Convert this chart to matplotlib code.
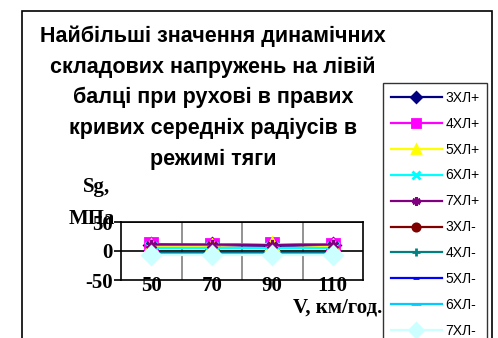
import matplotlib
matplotlib.use('Agg')
import matplotlib.pyplot as plt
from matplotlib.patches import Rectangle
from matplotlib.lines import Line2D

speeds = ['50', '70', '90', '110']
labels = ['3ХЛ+', '4ХЛ+', '5ХЛ+', '6ХЛ+', '7ХЛ+',
          '3ХЛ-', '4ХЛ-', '5ХЛ-', '6ХЛ-', '7ХЛ-']
s3p = [10, 10, 9, 10]
s4p = [12, 11, 12, 11]
s5p = [9, 9, 12, 8]
s6p = [6, 6, 6, 6]
s7p = [11, 11, 10, 11]
s3m = [-4, -4, -4, -4]
s4m = [-3, -3, -3, -3]
s5m = [-5, -5, -5, -5]
s6m = [-6, -6, -6, -6]
s7m = [-7, -7, -7, -7]
yticks = [-50, 0, 50]
title_lines = ['Найбільші значення динамічних',
               'складових напружень на лівій',
               'балці при рухові в правих',
               'кривих середніх радіусів в',
               'режимі тяги']

series = [s3p, s4p, s5p, s6p, s7p, s3m, s4m, s5m, s6m, s7m]
colors = ['#000080', '#FF00FF', '#FFFF00', '#00FFFF', '#800080',
          '#800000', '#008080', '#0000FF', '#00CCFF', '#CCFFFF']
markers = ['D', 's', '^', 'x', (6, 2, 0), 'o', '+', '_', '_', 'D']
msizes = [7, 8, 8, 8, 8, 7, 8, 6, 9, 9]

plt.rcParams['axes.unicode_minus'] = False

W, H = 498, 338
fig = plt.figure(figsize=(W / 100, H / 100), dpi=100)

# outer frame of the chart
fig.patches.append(Rectangle((22 / W, -0.1), (492 - 22) / W, 1.1 - 11 / H,
                             transform=fig.transFigure, fill=False,
                             edgecolor='black', linewidth=1.2))

# title, line by line
for i, line in enumerate(title_lines):
    fig.text(213 / W, 1 - (36 + i * 30.8) / H, line, ha='center', va='center',
             family='Liberation Sans', weight='bold', fontsize=15.5)

ax = fig.add_axes([121 / W, 1 - 280 / H, (363 - 121) / W, (280 - 222) / H])
x = range(len(speeds))
for vals, c, m, ms, lab in zip(series, colors, markers, msizes, labels):
    ax.plot(x, vals, color=c, marker=m, markersize=ms, markeredgewidth=2,
            linewidth=1.6, label=lab, clip_on=False)

ax.set_xlim(-0.5, 3.5)
ax.set_ylim(-50, 50)
ax.set_yticks(yticks)
ax.set_xticks(list(x))
ax.set_xticklabels(speeds)
for xv in [0.5, 1.5, 2.5]:
    ax.axvline(xv, color='#808080', linewidth=1.2, zorder=0)
ax.axhline(0, color='black', linewidth=1.2, zorder=0)
ax.axhline(50, color='black', linewidth=1.2, zorder=0)
for sp in ax.spines.values():
    sp.set_linewidth(1.2)
ax.tick_params(axis='x', length=0, pad=-3)
ax.tick_params(axis='y', length=5, width=1.2, pad=1)
for t in ax.get_xticklabels() + ax.get_yticklabels():
    t.set_family('Liberation Serif')
    t.set_weight('bold')
    t.set_fontsize(15)

fig.text(96 / W, 1 - 187 / H, 'Sg,', ha='center', va='center',
         family='Liberation Serif', weight='bold', fontsize=15)
fig.text(92 / W, 1 - 219 / H, 'МПа', ha='center', va='center',
         family='Liberation Serif', weight='bold', fontsize=15)
fig.text(382 / W, 1 - 307 / H, 'V, км/год.', ha='right', va='center',
         family='Liberation Serif', weight='bold', fontsize=15)

handles = [Line2D([], [], color=c, marker=m, markersize=ms * 0.75,
                  markeredgewidth=2, linewidth=1.6)
           for c, m, ms in zip(colors, markers, msizes)]
leg = fig.legend(handles, labels, loc='upper left',
                 bbox_to_anchor=(383 / W, 1 - 83 / H),
                 prop={'family': 'Liberation Sans', 'size': 10},
                 handlelength=3.7, handletextpad=0.25, labelspacing=0.86,
                 borderpad=0.55, borderaxespad=0, fancybox=False)
leg.get_frame().set_edgecolor('black')
leg.get_frame().set_linewidth(1.0)

fig.savefig('out.png', dpi=100)
